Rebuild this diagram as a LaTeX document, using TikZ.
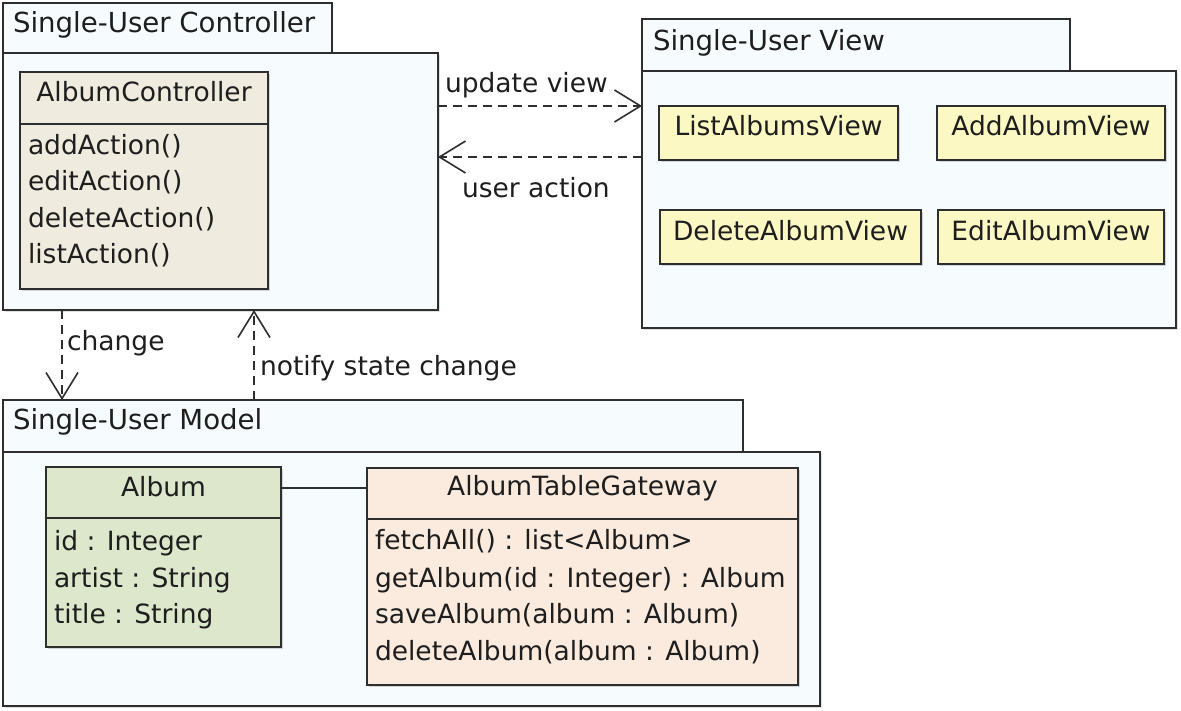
\documentclass[tikz,border=0pt]{standalone}
\usepackage{fontspec}
\setmainfont{DejaVu Sans}
\usetikzlibrary{arrows.meta,shadows,calc}
\definecolor{lc}{HTML}{2E2E2E}
\definecolor{tc}{HTML}{1E1E1E}
\definecolor{pkgc}{HTML}{F6FBFD}
\definecolor{ctrlc}{HTML}{EFEBDE}
\definecolor{viewc}{HTML}{FBF8C3}
\definecolor{albc}{HTML}{DDE7CB}
\definecolor{gwc}{HTML}{FAEBDE}
\begin{document}
\begin{tikzpicture}[x=1pt,y=-1pt,
  font=\fontsize{26.5}{30}\selectfont,
  pkg/.style={draw=lc, line width=1.8pt, fill=pkgc, rectangle, inner sep=0pt, outer sep=0pt, anchor=north west},
  pkgbody/.style={pkg, drop shadow={shadow xshift=2pt, shadow yshift=-2pt, opacity=0.25}},
  cls/.style={draw=lc, line width=1.8pt, rectangle, inner sep=0pt, outer sep=0pt, anchor=north west,
     drop shadow={shadow xshift=2pt, shadow yshift=-2pt, opacity=0.3}},
  txt/.style={anchor=base west, inner sep=0pt, outer sep=0pt, text=tc},
  tabtxt/.style={txt, font=\fontsize{27.6}{30}\selectfont},
  ctxt/.style={anchor=base, inner sep=0pt, outer sep=0pt, text=tc},
  sep/.style={draw=lc, line width=1.8pt},
  dep/.style={draw=lc, line width=1.6pt, dash pattern=on 9pt off 6pt,
     -{Straight Barb[length=26pt, width=32pt, line width=1.6pt]}},
  assoc/.style={draw=lc, line width=1.8pt}
]
\useasboundingbox[fill=white] (0,0) rectangle (1181,710);

% ---------- Controller package ----------
\node[pkgbody, minimum width=435pt, minimum height=257pt] (cbody) at (3,53) {};
\node[pkg, minimum width=329pt, minimum height=50pt] (ctab) at (3,3) {};
\node[tabtxt] (ctabt) at (13,32) {Single-User Controller};
\node[cls, fill=ctrlc, minimum width=248pt, minimum height=217pt] (actrl) at (20,72) {};
\draw[sep] (actrl.west |- 0,124) -- (actrl.east |- 0,124);
\node[ctxt] (actrlt) at (144,101) {AlbumController};
\node[txt] (m1) at (28,154) {addAction()};
\node[txt] (m2) at (28,190) {editAction()};
\node[txt] (m3) at (28,227) {deleteAction()};
\node[txt] (m4) at (28,263) {listAction()};

% ---------- View package ----------
\node[pkgbody, minimum width=534pt, minimum height=257pt] (vbody) at (642,71) {};
\node[pkg, minimum width=428pt, minimum height=52pt] (vtab) at (642,19) {};
\node[tabtxt] (vtabt) at (653,50) {Single-User View};
\node[cls, fill=viewc, minimum width=239pt, minimum height=54pt] (lav) at (659,106) {};
\node[ctxt] (lavt) at (778.5,135) {ListAlbumsView};
\node[cls, fill=viewc, minimum width=228pt, minimum height=54pt] (aav) at (937,106) {};
\node[ctxt] (aavt) at (1051,135) {AddAlbumView};
\node[cls, fill=viewc, minimum width=261pt, minimum height=54pt] (dav) at (660,210) {};
\node[ctxt] (davt) at (790.5,240) {DeleteAlbumView};
\node[cls, fill=viewc, minimum width=226pt, minimum height=54pt] (eav) at (938,210) {};
\node[ctxt] (eavt) at (1051,240) {EditAlbumView};

% ---------- Model package ----------
\node[pkgbody, minimum width=817pt, minimum height=254pt] (mbody) at (3,452) {};
\node[pkg, minimum width=740pt, minimum height=52pt] (mtab) at (3,400) {};
\node[tabtxt] (mtabt) at (13,429) {Single-User Model};
\node[cls, fill=albc, minimum width=235pt, minimum height=180pt] (album) at (46,467) {};
\draw[sep] (album.west |- 0,518) -- (album.east |- 0,518);
\node[ctxt] (albumt) at (163.5,496) {Album};
\node[txt] (a1) at (54,550) {id : Integer};
\node[txt] (a2) at (54,587) {artist : String};
\node[txt] (a3) at (54,623) {title : String};
\node[cls, fill=gwc, minimum width=431pt, minimum height=217pt] (gw) at (367,468) {};
\draw[sep] (gw.west |- 0,519) -- (gw.east |- 0,519);
\node[ctxt] (gwt) at (582.5,495) {AlbumTableGateway};
\node[txt] (g1) at (375,549) {fetchAll() : list<Album>};
\node[txt] (g2) at (375,587) {getAlbum(id : Integer) : Album};
\node[txt] (g3) at (375,623) {saveAlbum(album : Album)};
\node[txt] (g4) at (375,660) {deleteAlbum(album : Album)};

% association
\draw[assoc] ([yshift=-21pt]album.north east) -- ([yshift=-20pt]gw.north west);

% ---------- dependencies ----------
\coordinate (uay) at (0,157);
\coordinate (chx) at (62,0);
\coordinate (nsx) at (254,0);
\draw[dep] (lav.north -| cbody.east) -- (lav.north -| vbody.west);
\draw[dep] (uay -| vbody.west) -- (uay -| cbody.east);
\draw[dep] (chx |- cbody.south) -- (chx |- mtab.north);
\draw[dep] (nsx |- mtab.north) -- (nsx |- cbody.south);
\node[txt] (uvl) at (445,92) {update view};
\node[txt] (ual) at (462,197) {user action};
\node[txt] (chl) at (67,350) {change};
\node[txt] (nsl) at (260,375) {notify state change};
\end{tikzpicture}
\end{document}
